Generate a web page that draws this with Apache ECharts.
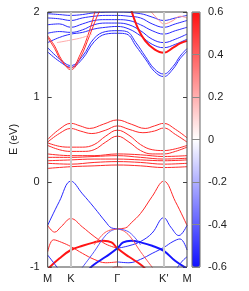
<!DOCTYPE html>
<html><head><meta charset="utf-8">
<script src="https://cdn.jsdelivr.net/npm/echarts@6/dist/echarts.min.js"></script>
<style>html,body{margin:0;padding:0;background:#fff}#c{width:249px;height:291px}</style>
</head><body><div id="c"></div><script>
// high-symmetry points (path length units: M-K = 1, K-Γ = 2)
const kPoints = [0, 1, 3, 5, 6];
const kLabels = ['M', 'K', 'Γ', "K'", 'M'];
const yTicks = [-1, 0, 1, 2];
const barTicks = ['-0.6', '-0.4', '-0.2', '0', '0.2', '0.4', '0.6'];

// ---- valence bands [k, E] ----
const vbTopLeft  = [[0,-0.51],[0.5,-0.23],[1,0.01],[1.5,-0.14],[2,-0.3],[2.5,-0.47],[2.75,-0.54],[3,-0.55]];
const vbTopRight = [[3,-0.55],[3.35,-0.54],[3.6,-0.48],[4,-0.37],[4.5,-0.17],[5,0.01],[5.5,-0.23],[6,-0.51]];
const vb2Left    = [[0,-0.51],[0.3,-0.59],[0.6,-0.52],[1,-0.43],[1.5,-0.53],[2,-0.64],[2.5,-0.73],[3,-0.78]];
const vb2Right   = [[3,-0.78],[3.5,-0.75],[4,-0.7],[4.5,-0.6],[5,-0.42],[5.3,-0.53],[5.65,-0.63],[6,-0.51]];
const vb3Left    = [[0,-0.82],[0.25,-0.68],[0.6,-0.71],[1,-0.76],[1.5,-0.84],[2,-0.91],[2.5,-0.95],[3,-0.94]];
const vb3Right   = [[3,-0.94],[3.5,-0.95],[4,-0.91],[4.5,-0.84],[5,-0.77],[5.4,-0.7],[5.7,-0.67],[6,-0.8]];
const thickRed   = [[0.05,-1.01],[0.5,-0.9],[1,-0.8],[1.5,-0.75],[2,-0.71],[2.4,-0.69],[2.75,-0.71],[3,-0.78],[3.5,-0.88],[4,-0.97],[4.2,-1.02]];
const thickBlue  = [[1.8,-1.02],[2,-0.97],[2.5,-0.88],[3,-0.78],[3.25,-0.71],[3.6,-0.69],[4,-0.71],[4.5,-0.75],[5,-0.81],[5.5,-0.93],[5.95,-1.01]];
const domeLeft   = [[1.45,-1.02],[2,-0.82],[2.4,-0.66],[2.7,-0.58],[3,-0.55]];
const domeRight  = [[3,-0.55],[3.3,-0.58],[3.6,-0.66],[4,-0.82],[4.55,-1.02]];
const dome2Left  = [[2.0,-0.74],[2.4,-0.61],[2.7,-0.565],[3,-0.555]];
const dome2Right = [[3,-0.555],[3.3,-0.565],[3.6,-0.61],[4,-0.74]];
const bottomCap  = [[2.55,-1.06],[2.8,-1.01],[3,-1.0],[3.2,-1.01],[3.45,-1.06]];
const lowLeft    = [[0,-0.86],[0.2,-0.93],[0.45,-1.02]];
const lowRight   = [[5.55,-1.02],[5.8,-0.93],[6,-0.88]];

// ---- gap-region bands ----
const fb1 = [[0,0.5],[0.5,0.62],[1,0.69],[1.4,0.66],[1.8,0.63],[2.4,0.68],[3,0.73],[3.6,0.68],[4.2,0.63],[4.6,0.66],[5,0.69],[5.5,0.62],[6,0.52]];
const fb2 = [[0,0.47],[0.5,0.57],[1,0.63],[1.4,0.6],[1.9,0.57],[2.5,0.61],[3,0.66],[3.5,0.62],[4.1,0.58],[4.6,0.6],[5,0.635],[5.5,0.56],[6,0.47]];
const fb3 = [[0,0.46],[0.5,0.42],[1,0.41],[1.5,0.41],[2,0.44],[2.5,0.54],[3,0.61],[3.5,0.55],[4,0.44],[4.5,0.38],[5,0.37],[5.5,0.39],[6,0.43]];
const fb4 = [[0,0.43],[0.5,0.38],[1,0.36],[1.5,0.36],[2,0.38],[2.5,0.47],[3,0.54],[3.5,0.47],[4,0.37],[4.5,0.33],[5,0.33],[5.5,0.36],[6,0.41]];
const lb1 = [[0,0.33],[1,0.31],[2,0.31],[3,0.33],[4,0.32],[5,0.3],[6,0.31]];
const lb2 = [[0,0.29],[1,0.29],[2,0.3],[3,0.31],[4,0.29],[5,0.27],[6,0.28]];
const lb3 = [[0,0.25],[1,0.26],[2,0.27],[3,0.27],[4,0.26],[5,0.25],[6,0.26]];
const lb4 = [[0,0.22],[1,0.21],[2,0.23],[3,0.24],[4,0.23],[5,0.21],[6,0.22]];
const lb5 = [[0,0.16],[1,0.18],[2,0.19],[3,0.2],[4,0.19],[5,0.17],[6,0.18]];

// ---- conduction bands ----
const cb1 = [[0,1.53],[0.5,1.42],[1,1.35],[1.5,1.45],[2,1.65],[2.5,1.74],[3,1.75],[3.4,1.74],[3.8,1.6],[4.2,1.45],[4.6,1.3],[5,1.24],[5.4,1.33],[5.7,1.45],[6,1.54]];
const cb2 = [[0,1.58],[0.5,1.45],[1,1.37],[1.5,1.48],[2,1.69],[2.5,1.77],[3,1.78],[3.4,1.77],[3.8,1.64],[4.2,1.48],[4.6,1.33],[5,1.27],[5.4,1.36],[5.7,1.48],[6,1.57]];
const cb3 = [[0,1.64],[0.5,1.7],[1,1.74],[1.5,1.76],[2,1.8],[2.5,1.82],[3,1.83],[3.5,1.8],[4,1.72],[4.5,1.62],[5,1.58],[5.5,1.62],[6,1.68]];
const cb4 = [[0,1.75],[0.5,1.77],[1,1.76],[1.5,1.79],[2,1.85],[2.5,1.87],[3,1.87],[3.5,1.85],[4,1.78],[4.5,1.68],[5,1.64],[5.5,1.68],[6,1.74]];
const cb5 = [[0,1.85],[0.5,1.86],[1,1.82],[1.5,1.86],[2,1.9],[2.5,1.91],[3,1.91],[3.5,1.9],[4,1.85],[4.5,1.78],[5,1.74],[5.5,1.78],[6,1.82]];
const cb6 = [[0,1.93],[0.5,1.92],[1,1.9],[1.5,1.93],[2,1.95],[2.5,1.96],[3,1.96],[3.5,1.95],[4,1.93],[4.5,1.86],[5,1.82],[5.5,1.86],[6,1.9]];
const cb7 = [[0,1.98],[0.5,1.97],[1,1.96],[1.5,1.97],[2,1.99],[3,2.0],[4,1.98],[4.5,1.94],[5,1.9],[5.5,1.93],[6,1.96]];
const cr1 = [[0,1.72],[0.3,1.6],[0.6,1.44],[1,1.32],[1.4,1.46],[1.8,1.72],[2.1,1.93],[2.3,2.05]];
const cr2 = [[0,1.7],[0.3,1.57],[0.6,1.42],[1,1.34],[1.4,1.5],[1.8,1.78],[2.05,2.02]];
const cr3 = [[3.6,2.02],[3.9,1.8],[4.2,1.66],[4.6,1.56],[5,1.52],[5.4,1.58],[5.7,1.63],[6,1.66]];
const cp1 = [[4.4,2.02],[4.8,1.9],[5,1.86],[5.4,1.9],[5.7,1.95],[6,1.93]];
const cp2 = [[0.4,1.64],[1,1.67],[1.5,1.7],[1.9,1.74]];

// spin expectation of each band piece (colour scale value)
const bandSpins = [
  [vbTopLeft,-0.5],[vbTopRight,0.5],[vb2Left,0.5],[vb2Right,-0.5],[vb3Left,0.5],[vb3Right,-0.5],
  [thickRed,0.55],[thickBlue,-0.55],[domeLeft,-0.4],[domeRight,0.4],[dome2Left,0.4],[dome2Right,-0.4],
  [bottomCap,0.5],[lowLeft,-0.5],[lowRight,-0.5],
  [fb1,0.5],[fb2,0.5],[fb3,0.5],[fb4,0.5],[lb1,0.5],[lb2,0.5],[lb3,0.5],[lb4,0.5],[lb5,0.5],
  [cb1,-0.5],[cb2,-0.5],[cb3,-0.5],[cb4,-0.5],[cb5,-0.5],[cb6,-0.5],[cb7,-0.5],
  [cr1,0.5],[cr2,0.5],[cr3,0.55],[cp1,0.25],[cp2,0.2]
];
const thickSet = new Set([thickRed, thickBlue, cr3]);

function spinColor(s){
  const t = Math.min(Math.abs(s)/0.6, 1);
  const c = Math.round(255*(1-t));
  return s >= 0 ? `rgb(255,${c},${c})` : `rgb(${c},${c},255)`;
}

const FONT = 'Liberation Sans';
const series = [{
  type:'line', data:[], silent:true, z:1,
  markLine:{silent:true, symbol:'none', label:{show:false}, animation:false,
    data:[
      {xAxis:kPoints[1], lineStyle:{color:'#c8c8c8', width:2, type:'solid'}},
      {xAxis:kPoints[3], lineStyle:{color:'#c8c8c8', width:2, type:'solid'}},
      {xAxis:kPoints[2], lineStyle:{color:'#555', width:1, type:'solid'}}
    ]}
}];
bandSpins.forEach(([pts, s]) => {
  series.push({
    type:'line', data:pts, smooth:0.4, symbol:'none', silent:true, z:2,
    lineStyle:{color:spinColor(s), width: thickSet.has(pts) ? 2 : 1}
  });
});

const chart = echarts.init(document.getElementById('c'), null, {renderer:'canvas'});
chart.setOption({
  animation:false,
  backgroundColor:'#fff',
  textStyle:{fontFamily:FONT},
  grid:[
    {left:42, top:12, width:145, height:255, show:true, borderColor:'#444', borderWidth:1, z:5},
    {left:192, top:12, width:8, height:255, show:true, borderColor:'#666', borderWidth:1, z:10}
  ],
  visualMap:{type:'continuous', min:-0.6, max:0.6, seriesIndex:[], calculable:false,
    text:['',''], showLabel:false, padding:0, left:192, top:12, itemWidth:8, itemHeight:255,
    inRange:{color:['#1010ff','#ffffff','#ff1010']}},
  xAxis:[
    {type:'value', gridIndex:0, min:kPoints[0], max:kPoints[kPoints.length-1], interval:1,
     axisLine:{show:false}, axisTick:{show:false}, splitLine:{show:false},
     axisLabel:{margin:6, fontSize:11, color:'#222', fontFamily:FONT, showMinLabel:true, showMaxLabel:true,
       formatter:v => { const i = kPoints.indexOf(Math.round(v)); return i>=0 ? kLabels[i] : ''; }}},
    {type:'value', gridIndex:1, show:false, min:0, max:1}
  ],
  yAxis:[
    {type:'value', gridIndex:0, min:yTicks[0], max:yTicks[yTicks.length-1], interval:1, position:'left',
     name:'E (eV)', nameLocation:'middle', nameGap:28, nameRotate:90,
     nameTextStyle:{fontSize:11, color:'#222', fontFamily:FONT},
     axisLine:{show:false}, splitLine:{show:false},
     axisTick:{show:true, inside:true, length:4, lineStyle:{color:'#444'}},
     axisLabel:{margin:8, fontSize:11, color:'#222', fontFamily:FONT}},
    {type:'value', gridIndex:0, min:yTicks[0], max:yTicks[yTicks.length-1], interval:1, position:'right',
     axisLine:{show:false}, splitLine:{show:false}, axisLabel:{show:false},
     axisTick:{show:true, inside:true, length:4, lineStyle:{color:'#444'}}},
    {type:'value', gridIndex:1, min:-0.6, max:0.6, interval:0.2, position:'right', z:10,
     axisLine:{show:false}, axisTick:{show:false},
     splitLine:{show:true, lineStyle:{color:'#888', width:1}},
     axisLabel:{margin:8, fontSize:11, color:'#222', fontFamily:FONT,
       formatter:v => barTicks[Math.round((v+0.6)/0.2)]}}
  ],
  series:series
});
</script></body></html>
